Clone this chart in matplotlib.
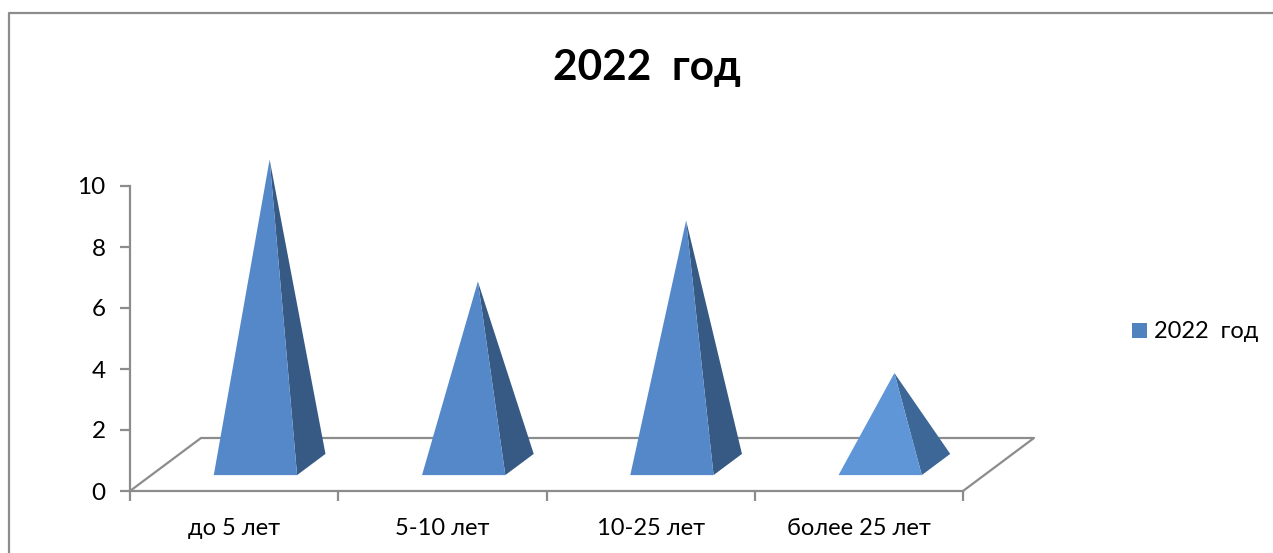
import matplotlib
matplotlib.use("Agg")
import matplotlib.pyplot as plt
from matplotlib.patches import Patch, Polygon

plt.rcParams['font.family'] = ['Lato', 'DejaVu Sans']

categories = ['до 5 лет', '5-10 лет', '10-25 лет', 'более 25 лет']
values = [10, 6, 8, 3]
front_colors = ['#5488C8', '#5488C8', '#5488C8', '#5E96D8']
side_colors = ['#375A85', '#375A85', '#375A85', '#3D6796']
series_name = '2022  год'
title = '2022  год'
y_ticks = [0, 2, 4, 6, 8, 10]

W, H = 1273, 553
GREY = '#8C8C8C'

# how far the floor runs back, in data units (71 px right, 53 px up)
depth_x = 71 / 208.25
depth_y = 53 / 30.5
half_w = 0.2
front, back = 0.3, 0.7


def project(x, d, h=0):
    return x + d * depth_x, h + d * depth_y


fig = plt.figure(figsize=(W / 100, H / 100), dpi=100)

# chart border, only left and top are visible in the crop
fig.add_artist(plt.Line2D([9 / W, 9 / W, 1], [0, 1 - 13 / H, 1 - 13 / H], color=GREY, lw=1.6))

ax = fig.add_axes([130 / W, 1 - 491 / H, (963 - 130) / W, (491 - 186) / H])
ax.set_xlim(0, 4)
ax.set_ylim(0, 10)
ax.patch.set_visible(False)

for s in ['top', 'right']:
    ax.spines[s].set_visible(False)
for s in ['left', 'bottom']:
    ax.spines[s].set_color(GREY)
    ax.spines[s].set_linewidth(1.6)

ax.set_yticks(y_ticks)
ax.set_xticks(range(len(categories) + 1))
ax.set_xticklabels([])
ax.set_xticks([i + 0.5 for i in range(len(categories))], categories, minor=True)
ax.tick_params(axis='both', which='major', color=GREY, width=1.6, length=7)
ax.tick_params(axis='y', labelsize=17.5, pad=10.5)
ax.tick_params(axis='x', which='minor', length=0, labelsize=17, pad=19.5)

# floor
fx, fy = zip(project(0, 0), project(0, 1), project(4, 1), project(4, 0))
ax.plot(fx, fy, color=GREY, lw=1.6, clip_on=False, zorder=1)

# pyramids
for i, v in enumerate(values):
    c = i + 0.5
    fl = project(c - half_w, front)
    fr = project(c + half_w, front)
    br = project(c + half_w, back)
    apex = project(c, (front + back) / 2, v)
    ax.add_patch(Polygon([fr, br, apex], closed=True, fc=side_colors[i], ec='none', clip_on=False, zorder=3))
    ax.add_patch(Polygon([fl, fr, apex], closed=True, fc=front_colors[i], ec='none', clip_on=False, zorder=4))

fig.text(647 / W, 1 - 68 / H, title, fontsize=30.5, fontweight='bold', ha='center', va='center')

fig.legend(handles=[Patch(fc='#5082BE', label=series_name)], loc='center left',
           bbox_to_anchor=(1132 / W, 1 - 332 / H), frameon=False, fontsize=17,
           handlelength=0.62, handleheight=0.62, handletextpad=0.3, borderpad=0, borderaxespad=0)

fig.savefig('out.png', dpi=100)
